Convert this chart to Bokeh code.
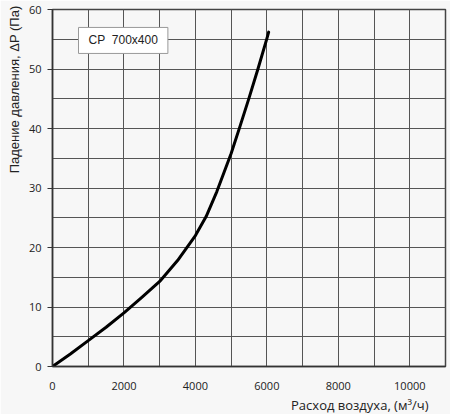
from bokeh.plotting import figure
from bokeh.models import SingleIntervalTicker, Label, Title, Range1d
from bokeh.embed import file_html
from bokeh.resources import INLINE

# data
flow = [0, 500, 1000, 1500, 2000, 2500, 3000, 3500, 4000, 4300, 4600, 5000, 5250, 5500, 5750, 6000, 6050]
dp = [0, 2.1, 4.35, 6.6, 9.0, 11.6, 14.3, 17.8, 22.0, 25.2, 29.4, 35.8, 40.4, 45.1, 50.0, 55.1, 56.2]
x_label = "Расход воздуха, (м³/ч)"
y_label = "Падение давления, ΔP (Па)"
series_name = "CP\u00a0\u00a0700x400"

BG = "#f7f7f7"
GRID = "#555555"

p = figure(width=450, height=414, output_backend="svg", toolbar_location=None,
           x_range=Range1d(0, 11000), y_range=Range1d(0, 60),
           min_border_left=52, min_border_right=5, min_border_top=9, min_border_bottom=48)
p.background_fill_color = BG
p.border_fill_color = BG
p.outline_line_color = "#444444"
p.outline_line_width = 1.5

p.line(flow, dp, line_color="black", line_width=3, line_join="round", line_cap="round")

xt = SingleIntervalTicker(interval=2000, num_minor_ticks=2)
yt = SingleIntervalTicker(interval=10, num_minor_ticks=2)
p.xaxis.ticker = xt
p.yaxis.ticker = yt
p.xgrid.ticker = xt
p.ygrid.ticker = yt
for g in (p.xgrid, p.ygrid):
    g.grid_line_color = GRID
    g.grid_line_width = 1
    g.minor_grid_line_color = GRID
    g.minor_grid_line_width = 1

for ax in (p.xaxis, p.yaxis):
    ax.axis_line_color = "#333333"
    ax.axis_line_width = 1.5
    ax.minor_tick_line_color = None
    ax.major_label_text_font = "Open Sans"
    ax.major_label_text_font_size = "11px"
    ax.major_label_text_color = "#222222"

p.xaxis.major_tick_line_color = None
p.xaxis.major_label_standoff = 9
p.yaxis.major_tick_in = 0
p.yaxis.major_tick_out = 5
p.yaxis.major_tick_line_color = "#333333"
p.yaxis.major_label_standoff = 6

p.add_layout(Title(text=x_label, align="right", offset=17, text_font="Open Sans",
                   text_font_size="13px", text_font_style="normal", text_color="#222222",
                   standoff=2), "below")
p.add_layout(Title(text=y_label, align="right", offset=-4, text_font="Liberation Sans",
                   text_font_size="13px", text_font_style="normal", text_color="#222222",
                   standoff=8), "left")

p.add_layout(Label(x=728, y=54.8, text=series_name, text_baseline="middle",
                   text_font="Liberation Sans", text_font_size="12px", text_color="#222222",
                   background_fill_color="white", border_line_color="#999999",
                   border_line_width=1, padding=dict(x=10, y=6)))

open("out.html", "w").write(file_html(p, INLINE))
